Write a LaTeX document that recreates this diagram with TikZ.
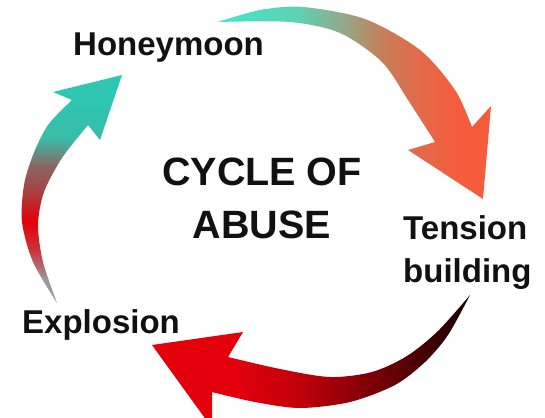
\documentclass[tikz,border=0pt]{standalone}
\usepackage{fontspec}
\setmainfont{Liberation Sans}

\definecolor{aqua}{HTML}{45E5C8}
\definecolor{tealhead}{HTML}{2EC6B0}
\definecolor{coral}{HTML}{F45C3C}
\definecolor{hotred}{HTML}{E3000B}
\definecolor{tailgrey}{HTML}{9A9A9A}
\definecolor{ink}{HTML}{111111}

\pgfdeclarehorizontalshading{topflow}{100bp}{%
  color(0bp)=(aqua); color(25bp)=(aqua); color(40bp)=(aqua!85!coral);
  color(48bp)=(aqua!55!coral); color(55bp)=(aqua!25!coral!80!brown);
  color(62bp)=(coral!90!aqua); color(69bp)=(coral); color(100bp)=(coral)}
\pgfdeclareverticalshading{leftflow}{100bp}{%
  color(0bp)=(tailgrey); color(25bp)=(tailgrey); color(30bp)=(tailgrey);
  color(37bp)=(hotred!70!tailgrey); color(43bp)=(hotred); color(50bp)=(hotred!65!tealhead);
  color(55bp)=(tealhead!45!hotred!70!gray); color(61bp)=(tealhead!85!gray);
  color(69bp)=(tealhead); color(100bp)=(tealhead)}
\pgfdeclarehorizontalshading{bottomflow}{100bp}{%
  color(0bp)=(hotred); color(25bp)=(hotred); color(38bp)=(hotred);
  color(48bp)=(hotred!85!black); color(57bp)=(hotred!62!black);
  color(66bp)=(hotred!35!black); color(75bp)=(hotred!12!black); color(100bp)=(black)}

\begin{document}
\begin{tikzpicture}[
  x=1pt, y=-1pt,
  stage/.style={font=\bfseries\fontsize{33}{43}\selectfont, text=ink, inner sep=0pt, align=left},
  title/.style={font=\bfseries\fontsize{39.5}{53}\selectfont, text=ink, inner sep=0pt, align=center}
]
\useasboundingbox (0,0) rectangle (545,417);
\clip (0,0) rectangle (545,417);

% honeymoon -> tension building
\shade[shading=topflow]
  plot[smooth] coordinates {(218,22) (260,10) (303,7) (365,19) (420,50) (455,90) (472,127)}
  -- (491,106) -- (483,199) -- (408,150) -- (435,142)
  -- plot[smooth] coordinates {(435,142) (408,100) (382,62) (340,33) (290,22) (218,22)} -- cycle;

% tension building -> explosion
\shade[shading=bottomflow]
  plot[smooth] coordinates {(470,295) (448,335) (425,362) (395,385) (350,402) (300,408) (255,402) (212,392)}
  -- (212,428) -- (152,345) -- (243,332) -- (228,357)
  -- plot[smooth] coordinates {(228,357) (280,369) (330,377) (372,372) (407,356) (438,331) (470,295)} -- cycle;

% explosion -> honeymoon
\shade[shading=leftflow]
  plot[smooth] coordinates {(57,303) (33,262) (22,222) (24,185) (33,155) (48,125) (72,100)}
  -- (53,92) -- (122,75) -- (100,140) -- (88,125)
  -- plot[smooth] coordinates {(88,125) (62,158) (44,192) (38,225) (43,262) (57,303)} -- cycle;

\node[stage, anchor=base west] (honeymoon) at (73,56) {Honeymoon};
\node[stage, anchor=north west] (tension) at (403,215) {Tension\\building};
\node[stage, anchor=base west] (explosion) at (22,333) {Explosion};
\node[title, anchor=north] (cycle) at (262,158) {CYCLE OF\\ABUSE};

\end{tikzpicture}
\end{document}
